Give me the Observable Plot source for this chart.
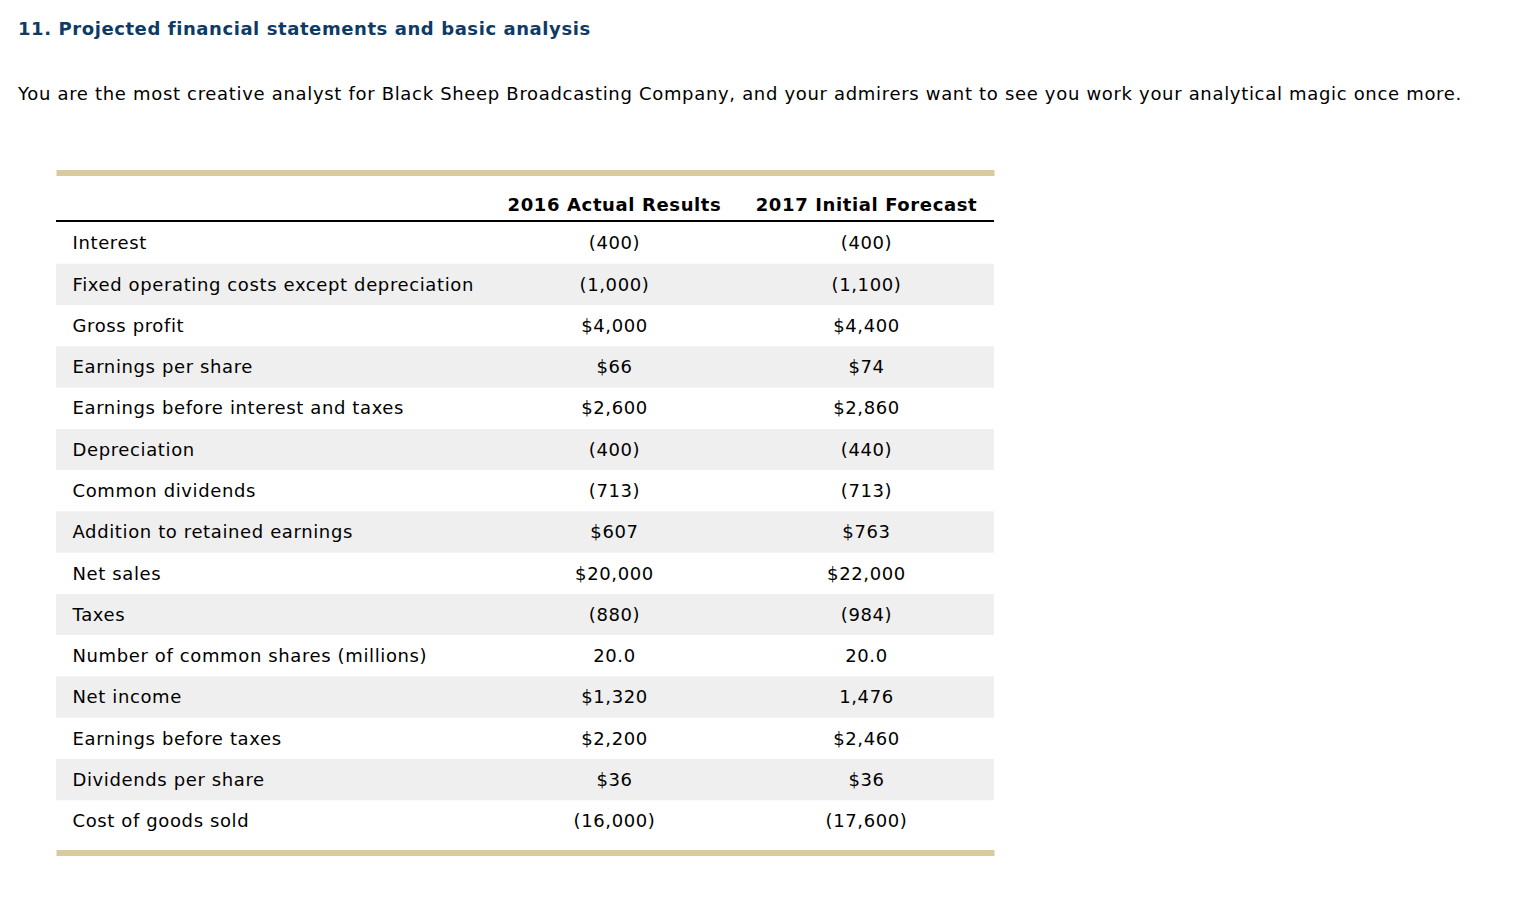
<!DOCTYPE html>
<html>
<head>
<meta charset="utf-8">
<script src="https://cdn.jsdelivr.net/npm/d3@7"></script>
<script src="https://cdn.jsdelivr.net/npm/@observablehq/plot@0.6"></script>
<style>
html, body { margin: 0; padding: 0; background: #fff; }
body { width: 1536px; height: 904px; position: relative; overflow: hidden; font-family: "DejaVu Sans", Verdana, sans-serif; }
#title { position: absolute; left: 18px; top: 19px; line-height: 20px; font-size: 18px; letter-spacing: 0.58px; font-weight: bold; color: #0d3b66; white-space: nowrap; }
#subtitle { position: absolute; left: 18px; top: 84px; line-height: 20px; font-size: 18px; letter-spacing: 0.68px; color: #000; white-space: nowrap; }
#chart { position: absolute; left: 0; top: 150px; }
#chart svg text { letter-spacing: 0.62px; }
</style>
</head>
<body>
<div id="title">11. Projected financial statements and basic analysis</div>
<div id="subtitle">You are the most creative analyst for Black Sheep Broadcasting Company, and your admirers want to see you work your analytical magic once more.</div>
<div id="chart"></div>
<script>
// ---- data ----
const columnHeaders = ["2016 Actual Results", "2017 Initial Forecast"];
const rowLabels = [
  "Interest",
  "Fixed operating costs except depreciation",
  "Gross profit",
  "Earnings per share",
  "Earnings before interest and taxes",
  "Depreciation",
  "Common dividends",
  "Addition to retained earnings",
  "Net sales",
  "Taxes",
  "Number of common shares (millions)",
  "Net income",
  "Earnings before taxes",
  "Dividends per share",
  "Cost of goods sold"
];
const actual2016 = [
  "(400)", "(1,000)", "$4,000", "$66", "$2,600", "(400)", "(713)", "$607",
  "$20,000", "(880)", "20.0", "$1,320", "$2,200", "$36", "(16,000)"
];
const forecast2017 = [
  "(400)", "(1,100)", "$4,400", "$74", "$2,860", "(440)", "(713)", "$763",
  "$22,000", "(984)", "20.0", "1,476", "$2,460", "$36", "(17,600)"
];

// ---- table built from the arrays ----
const rows = rowLabels.map((label, i) => ({label, i, a: actual2016[i], f: forecast2017[i]}));
const striped = rows.filter(d => d.i % 2 === 1);

// ---- layout / style ----
const font = "'DejaVu Sans', Verdana, sans-serif";
const fs = 18;
const gold = "#d8cba2";
const stripe = "#efefef";
const colOffset = {label: 16, a: 558, f: 810}; // offsets from the table's left edge

const chart = Plot.plot({
  width: 1536,
  height: 720,
  marginLeft: 56,
  marginRight: 542,
  marginTop: 22.5,
  marginBottom: 17.5,
  y: {axis: null, domain: [0, rowLabels.length], range: [72.5, 691.5]},
  style: {fontFamily: font, fontSize: fs + "px", color: "#000", background: "#fff", overflow: "visible"},
  marks: [
    Plot.rect(striped, {y1: "i", y2: d => d.i + 1, fill: stripe}),
    Plot.ruleY([0], {stroke: "#000", strokeWidth: 2, dy: -2}),
    Plot.frame({anchor: "top", stroke: gold, strokeWidth: 6, strokeLinecap: "butt"}),
    Plot.frame({anchor: "bottom", stroke: gold, strokeWidth: 6, strokeLinecap: "butt"}),
    Plot.text([columnHeaders[0]], {text: d => d, frameAnchor: "top-left", lineAnchor: "middle", dx: colOffset.a, dy: 32, textAnchor: "middle", fontWeight: "bold", fontSize: fs, fill: "#000"}),
    Plot.text([columnHeaders[1]], {text: d => d, frameAnchor: "top-left", lineAnchor: "middle", dx: colOffset.f, dy: 32, textAnchor: "middle", fontWeight: "bold", fontSize: fs, fill: "#000"}),
    Plot.text(rows, {y: d => d.i + 0.5, text: "label", frameAnchor: "left", dx: colOffset.label, textAnchor: "start", fontSize: fs, fill: "#000"}),
    Plot.text(rows, {y: d => d.i + 0.5, text: "a", frameAnchor: "left", dx: colOffset.a, textAnchor: "middle", fontSize: fs, fill: "#000"}),
    Plot.text(rows, {y: d => d.i + 0.5, text: "f", frameAnchor: "left", dx: colOffset.f, textAnchor: "middle", fontSize: fs, fill: "#000"})
  ]
});
document.getElementById("chart").appendChild(chart);
</script>
</body>
</html>
